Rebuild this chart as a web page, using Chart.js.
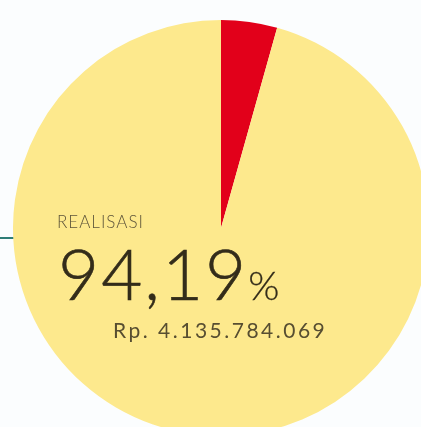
<!DOCTYPE html>
<html>
<head>
<meta charset="utf-8">
<script src="https://cdn.jsdelivr.net/npm/chart.js@4/dist/chart.umd.min.js"></script>
<style>
  html, body { margin: 0; padding: 0; background: #fbfdfe; overflow: hidden; width: 421px; height: 427px; }
  #wrap { position: absolute; left: 13px; top: 20px; width: 416px; height: 416px; }
  #connector { position: absolute; left: 0; top: 237px; width: 14px; height: 2px; background: #2e7d77; }
  .txt { position: absolute; font-family: Lato, "DejaVu Sans", sans-serif; line-height: 1; white-space: nowrap; }
  #lbl { left: 57px; top: 213px; font-size: 17px; font-weight: 300; color: #5e553a; letter-spacing: 1px; }
  #pct { left: 58px; top: 237px; font-size: 71px; font-weight: 300; color: #332c1a; letter-spacing: 2px; -webkit-text-stroke: 0.6px #332c1a; }
  #pct span { font-size: 40px; letter-spacing: 0; -webkit-text-stroke: 0.3px #332c1a; }
  #amt { left: 113px; top: 319px; font-size: 21px; font-weight: 400; color: #574e31; letter-spacing: 2.5px; }
</style>
</head>
<body>
<div id="connector"></div>
<div id="wrap"><canvas id="pie" width="416" height="416"></canvas></div>
<div class="txt" id="lbl">REALISASI</div>
<div class="txt" id="pct">94,19<span>%</span></div>
<div class="txt" id="amt">Rp. 4.135.784.069</div>
<script>
// slice sizes as drawn in the picture (red wedge ~ 15.6 degrees)
var labels = ['Sisa', 'Realisasi'];
var values = [4.35, 95.65];
var colors = ['#e2001a', '#fde98d'];

var ctx = document.getElementById('pie').getContext('2d');
var myChart = new Chart(ctx, {
	type: 'pie',
	data: {
		labels: labels,
		datasets: [{
			data: values,
			backgroundColor: colors,
			borderWidth: 0
		}]
	},
	options: {
		responsive: false,
		animation: false,
		layout: { padding: 0 },
		plugins: {
			legend: { display: false },
			tooltip: { enabled: false }
		}
	}
});
</script>
</body>
</html>
